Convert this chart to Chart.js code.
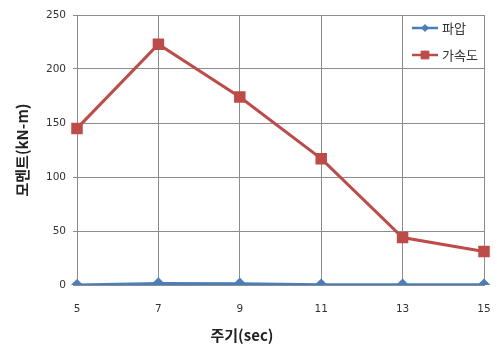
<!DOCTYPE html>
<html>
<head>
<meta charset="utf-8">
<script src="https://cdn.jsdelivr.net/npm/chart.js@4"></script>
<style>
html,body{margin:0;padding:0;background:#fff;}
#wrap{width:497px;height:349px;}
</style>
</head>
<body>
<div id="wrap"><canvas id="c" width="497" height="349"></canvas></div>
<script>
const categories = ['5', '7', '9', '11', '13', '15'];
const seriesNames = ['파압', '가속도'];
const waveValues = [0, 1.5, 1.2, 0.3, 0.3, 0.3];
const accelValues = [145, 223, 174, 117, 44, 31];
const yTicks = [0, 50, 100, 150, 200, 250];
const xTitle = '주기(sec)';
const yTitle = '모멘트(kN-m)';

const BLUE = '#4A7EBB';
const RED = '#BE4B48';
const GRID = '#8c8c8c';
const KFONT = "'Noto Sans CJK KR', 'DejaVu Sans', sans-serif";
const NFONT = "'DejaVu Sans', sans-serif";

const legendPlugin = {
  id: 'insideLegend',
  afterDatasetsDraw(chart) {
    const ctx = chart.ctx;
    const area = chart.chartArea;
    const x0 = area.right - 72;
    const rows = [area.top + 13, area.top + 40];
    chart.data.datasets.forEach((ds, i) => {
      const y = rows[i];
      ctx.save();
      ctx.strokeStyle = ds.borderColor;
      ctx.lineWidth = 2.5;
      ctx.beginPath();
      ctx.moveTo(x0, y);
      ctx.lineTo(x0 + 26, y);
      ctx.stroke();
      ctx.fillStyle = ds.pointBackgroundColor;
      ctx.strokeStyle = ds.pointBorderColor;
      ctx.lineWidth = 1;
      Chart.helpers.drawPoint(ctx, {pointStyle: ds.pointStyle, radius: ds.pointRadius - 0.5, borderWidth: 1}, x0 + 13, y);
      ctx.fillStyle = '#333';
      ctx.font = "13px " + KFONT;
      ctx.textBaseline = 'middle';
      ctx.textAlign = 'left';
      ctx.fillText(ds.label, x0 + 30, y);
      ctx.restore();
    });
  }
};

new Chart(document.getElementById('c'), {
  type: 'line',
  data: {
    labels: categories,
    datasets: [
      {
        label: seriesNames[0],
        data: waveValues,
        borderColor: BLUE,
        backgroundColor: BLUE,
        pointBackgroundColor: BLUE,
        pointBorderColor: BLUE,
        pointStyle: 'rectRot',
        pointRadius: 4,
        borderWidth: 3,
        tension: 0
      },
      {
        label: seriesNames[1],
        data: accelValues,
        borderColor: RED,
        backgroundColor: RED,
        pointBackgroundColor: RED,
        pointBorderColor: RED,
        pointStyle: 'rect',
        pointRadius: 6,
        borderWidth: 3,
        tension: 0
      }
    ]
  },
  options: {
    responsive: false,
    animation: false,
    layout: { padding: { top: 15, right: 13, left: 0, bottom: 0 } },
    plugins: {
      legend: { display: false },
      tooltip: { enabled: false },
      title: {
        display: true,
        position: 'bottom',
        text: xTitle,
        color: '#222',
        font: { family: KFONT, size: 15, weight: 'bold', lineHeight: 1.2 },
        padding: { top: 1, bottom: 5 }
      }
    },
    scales: {
      x: {
        type: 'category',
        offset: false,
        grid: { color: GRID, lineWidth: 1, drawTicks: false },
        border: { color: GRID },
        ticks: { color: '#333', font: { family: NFONT, size: 10.5 }, padding: 18, maxRotation: 0 },
        afterFit(s) { s.height = 40; s.paddingLeft = 0; s.paddingRight = 0; }
      },
      y: {
        min: 0,
        max: 250,
        afterBuildTicks(s) { s.ticks = yTicks.map(v => ({ value: v })); },
        grid: { color: GRID, lineWidth: 1, tickLength: 4 },
        border: { color: GRID },
        ticks: { color: '#333', font: { family: NFONT, size: 10.5 }, padding: 7 },
        title: {
          display: true,
          text: yTitle,
          color: '#222',
          font: { family: KFONT, size: 15, weight: 'bold', lineHeight: 1.2 },
          padding: { top: 13, bottom: 0 }
        },
        afterFit(s) { s.width = 77; s.paddingTop = 0; s.paddingBottom = 0; }
      }
    }
  },
  plugins: [legendPlugin]
});
</script>
</body>
</html>
